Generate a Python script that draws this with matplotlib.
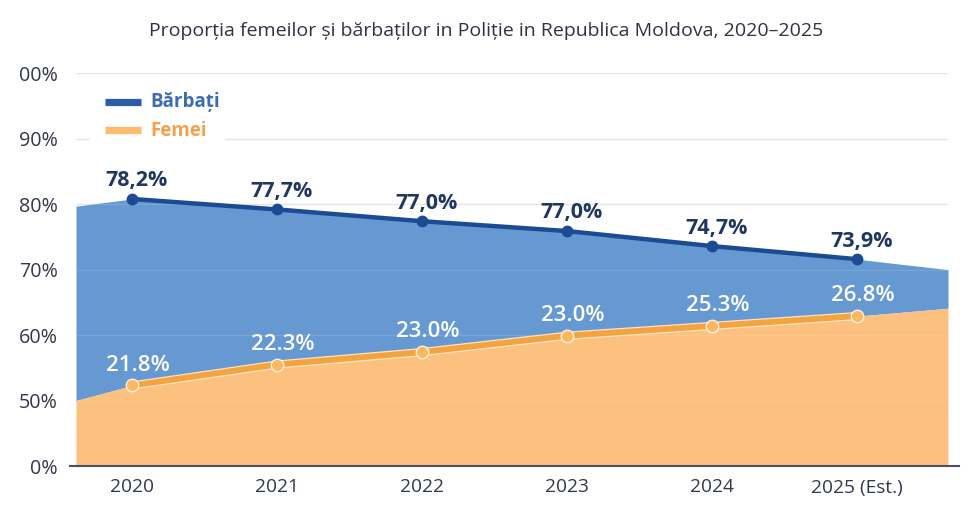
import matplotlib
matplotlib.use("Agg")
import matplotlib.pyplot as plt
import numpy as np
from matplotlib.lines import Line2D
from matplotlib.patches import Rectangle

plt.rcParams['font.family'] = ['Open Sans', 'DejaVu Sans']

# ---- data ----
years = ["2020", "2021", "2022", "2023", "2024", "2025 (Est.)"]
barbati_labels = ["78,2%", "77,7%", "77,0%", "77,0%", "74,7%", "73,9%"]
femei_labels = ["21.8%", "22.3%", "23.0%", "23.0%", "25.3%", "26.8%"]
# plotted heights as drawn in the picture (on the chart's own axis)
barbati_plot = [80.8, 79.2, 77.4, 75.9, 73.6, 71.6]
femei_plot = [52.3, 55.5, 57.4, 59.9, 61.4, 62.9]
# where the filled areas meet the left / right plot edges
barbati_edges = [79.7, 70.0]
femei_edges = [50.0, 64.1]
ytick_values = [0, 50, 60, 70, 80, 90, 100]
ytick_labels = ["0%", "50%", "60%", "70%", "80%", "90%", "00%"]
title = "Proporția femeilor și bărbaților in Poliție in Republica Moldova, 2020–2025"

# ---- styling ----
C_BLUE_AREA = "#6699d2"
C_BLUE_LINE = "#1c4b94"
C_BLUE_TEXT = "#1f3761"
C_ORANGE_AREA = "#fcc07f"
C_ORANGE_LINE = "#f2a441"
C_GRID = "#e2e2e2"
C_TICK = "#33384a"

fig = plt.figure(figsize=(9.68, 5.2), dpi=100)
fig.patch.set_facecolor("white")
ax = fig.add_axes([76/968, 54/520, 872/968, 392.7/520])


def fwd(v):
    v = np.asarray(v, dtype=float)
    return np.where(v <= 50, v / 50.0, 1 + (v - 50) / 10.0)


def inv(u):
    u = np.asarray(u, dtype=float)
    return np.where(u <= 1, u * 50.0, 50 + (u - 1) * 10.0)


ax.set_yscale('function', functions=(fwd, inv))

n = len(years)
xi = np.arange(n)
x_left, x_right = -56/145, (n - 1) + 91/145
ax.set_xlim(x_left, x_right)
ax.set_ylim(0, 100)

xa = np.concatenate([[x_left], xi, [x_right]])
blue_top = np.concatenate([[barbati_edges[0]], barbati_plot, [barbati_edges[1]]])
orange_top = np.concatenate([[femei_edges[0]], femei_plot, [femei_edges[1]]])

# gridlines
for v in ytick_values[1:]:
    ax.axhline(v, color=C_GRID, lw=1.0, zorder=0)

ax.fill_between(xa, orange_top, blue_top, color=C_BLUE_AREA, lw=0, zorder=1)
ax.fill_between(xa, 0, orange_top, color=C_ORANGE_AREA, lw=0, zorder=1)

for v in ytick_values[1:]:
    ax.axhline(v, color="white", lw=0.8, alpha=0.13, zorder=2)

# lines
ax.plot(xi, barbati_plot, color=C_BLUE_LINE, lw=3.2, marker='o', ms=7.5,
        mfc=C_BLUE_LINE, mec=C_BLUE_LINE, zorder=5, solid_capstyle='round')
ax.plot(xi, femei_plot, color="#fde3c2", lw=6.0, zorder=4,
        solid_capstyle='round')
ax.plot(xi, femei_plot, color=C_ORANGE_LINE, lw=4.2, marker='o', ms=9,
        mfc="#fbb862", mec="#fff1df", mew=1.0, zorder=5)

# value labels
for x, y, lab in zip(xi, barbati_plot, barbati_labels):
    ax.annotate(lab, (x, y), xytext=(3, 13), textcoords='offset points',
                ha='center', va='center', fontsize=15.5, fontweight='bold',
                color=C_BLUE_TEXT, zorder=6)
for x, y, lab in zip(xi, femei_plot, femei_labels):
    ax.annotate(lab, (x, y), xytext=(4, 14.5), textcoords='offset points',
                ha='center', va='center', fontsize=16, fontweight='semibold',
                color="white", zorder=6)

# axes styling
for s in ax.spines.values():
    s.set_visible(False)
ax.set_xticks(xi)
ax.set_xticklabels(years, fontsize=13.8, color=C_TICK)
ax.set_yticks(ytick_values)
ax.set_yticklabels(ytick_labels, fontsize=14.2, color=C_TICK)
ax.tick_params(axis='x', length=0, pad=9)
ax.tick_params(axis='y', length=0, pad=13)

# bottom axis line
ax.add_line(Line2D([-6/872, 1 + 11/872], [0, 0], transform=ax.transAxes,
                   color="#4a4f66", lw=1.5, clip_on=False, zorder=7))


def fx(px):
    return (px - 76) / 872


def fy(py):
    return (466 - py) / 392.7


# legend
ax.add_patch(Rectangle((fx(90), fy(146)), fx(225) - fx(90), fy(86) - fy(146),
                       transform=ax.transAxes, facecolor="white", edgecolor="none",
                       zorder=3))
ax.add_line(Line2D([fx(105), fx(141)], [fy(101.5)] * 2, transform=ax.transAxes,
                   color="#2b5ea6", lw=5.2, solid_capstyle='butt', zorder=4))
ax.add_line(Line2D([fx(105), fx(141)], [fy(130)] * 2, transform=ax.transAxes,
                   color="#fcbd6c", lw=5.2, solid_capstyle='butt', zorder=4))
ax.text(fx(150), fy(102), "Bărbați", transform=ax.transAxes, fontsize=13.5,
        fontweight='bold', color="#3a6db4", va='center', ha='left', zorder=4)
ax.text(fx(150), fy(131), "Femei", transform=ax.transAxes, fontsize=13.5,
        fontweight='bold', color="#f4a24e", va='center', ha='left', zorder=4)

fig.text(486/968, 1 - 31/520, title, ha='center', va='center', fontsize=14,
         color="#2f3342")

fig.savefig("out.png", dpi=100)
